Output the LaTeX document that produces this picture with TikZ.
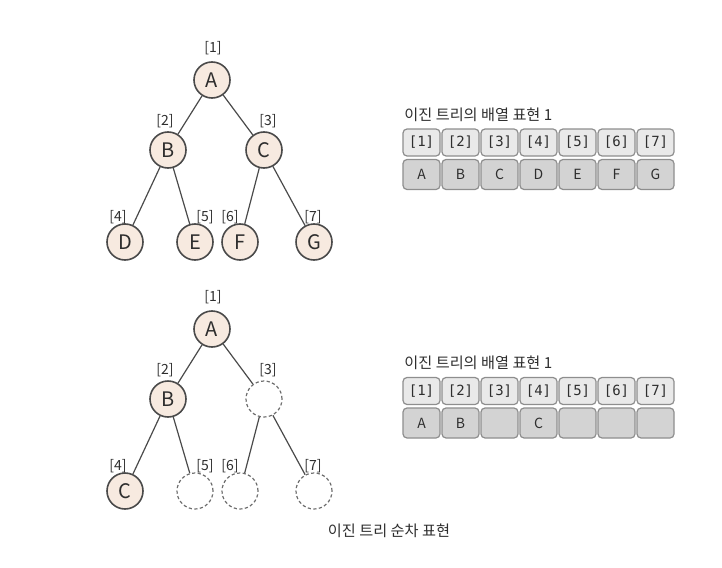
\documentclass[tikz,border=0pt]{standalone}
\usepackage{fontspec}
\setmainfont{Noto Sans CJK KR}
\setmonofont{DejaVu Sans Mono}
\usetikzlibrary{positioning}
\definecolor{ink}{HTML}{2E2E2E}
\definecolor{edgeline}{HTML}{4A4A4A}
\definecolor{nodefill}{HTML}{F7EAE0}
\definecolor{emptyline}{HTML}{6E6E6E}
\definecolor{idxfill}{HTML}{E9E9E9}
\definecolor{valfill}{HTML}{D3D3D3}
\definecolor{boxline}{HTML}{8E8E8E}
\tikzset{
  treenode/.style={circle,draw=edgeline,line width=0.8pt,fill=nodefill,
    minimum size=18pt,inner sep=0pt,text=ink,font=\fontsize{10}{11}\selectfont},
  emptynode/.style={circle,draw=emptyline,dash pattern=on 1.6pt off 1.2pt,
    line width=0.6pt,minimum size=18pt,inner sep=0pt},
  idxlabel/.style={text=ink,inner sep=0pt,font=\fontsize{7}{8}\selectfont},
  idxbox/.style={draw=boxline,fill=idxfill,rounded corners=2pt,line width=0.6pt,
    minimum width=18.5pt,minimum height=13.5pt,inner sep=0pt,text=ink,
    font=\ttfamily\fontsize{7}{8}\selectfont},
  valbox/.style={idxbox,fill=valfill,minimum height=15pt,
    font=\fontsize{7}{8}\selectfont},
  branch/.style={draw=edgeline,line width=0.6pt},
  titletext/.style={anchor=west,text=ink,inner sep=0pt,font=\fontsize{7.6}{9}\selectfont}
}

\begin{document}
\begin{tikzpicture}[x=0.5pt,y=-0.5pt]
  \useasboundingbox (0,0) rectangle (722,567);

  % full tree
  \node[treenode] (tA) at (212,80) {A};
  \node[treenode] (tB) at (168,150) {B};
  \node[treenode] (tC) at (264,150) {C};
  \node[treenode] (tD) at (125,242) {D};
  \node[treenode] (tE) at (195,242) {E};
  \node[treenode] (tF) at (240,242) {F};
  \node[treenode] (tG) at (314,242) {G};
  \draw[branch] (tA) -- (tB);
  \draw[branch] (tA) -- (tC);
  \draw[branch] (tB) -- (tD);
  \draw[branch] (tB) -- (tE);
  \draw[branch] (tC) -- (tF);
  \draw[branch] (tC) -- (tG);
  \foreach \n/\x/\y in {1/213/48,2/165/121,3/268/121,4/118/217,5/205/217,6/230/217,7/313/217}
    \node[idxlabel] (tl\n) at (\x,\y) {[\n]};

  \node[titletext] (ttitle) at (404,115) {이진 트리의 배열 표현 1};
  \foreach \i/\v in {1/A,2/B,3/C,4/D,5/E,6/F,7/G}{
    \node[idxbox] (ti\i) at ({421.5+39*(\i-1)},142.5) {[\i]};
    \node[valbox] (tv\i) at ({421.5+39*(\i-1)},174.5) {\v};}

  % sparse tree
  \node[treenode] (sA) at (212,329) {A};
  \node[treenode] (sB) at (168,399) {B};
  \node[emptynode] (s3) at (264,399) {};
  \node[treenode] (sC) at (125,491) {C};
  \node[emptynode] (s5) at (195,491) {};
  \node[emptynode] (s6) at (240,491) {};
  \node[emptynode] (s7) at (314,491) {};
  \draw[branch] (sA) -- (sB);
  \draw[branch] (sA) -- (s3);
  \draw[branch] (sB) -- (sC);
  \draw[branch] (sB) -- (s5);
  \draw[branch] (s3) -- (s6);
  \draw[branch] (s3) -- (s7);
  \foreach \n/\x/\y in {1/213/297,2/165/370,3/268/370,4/118/466,5/205/466,6/230/466,7/313/466}
    \node[idxlabel] (sl\n) at (\x,\y) {[\n]};

  \node[titletext] (stitle) at (404,363) {이진 트리의 배열 표현 1};
  \foreach \i/\v in {1/A,2/B,3/{},4/C,5/{},6/{},7/{}}{
    \node[idxbox] (si\i) at ({421.5+39*(\i-1)},391) {[\i]};
    \node[valbox] (sv\i) at ({421.5+39*(\i-1)},423) {\v};}

  \node[text=ink,inner sep=0pt,font=\fontsize{7.6}{9}\selectfont] (caption) at (389,531)
    {이진 트리 순차 표현};
\end{tikzpicture}
\end{document}
